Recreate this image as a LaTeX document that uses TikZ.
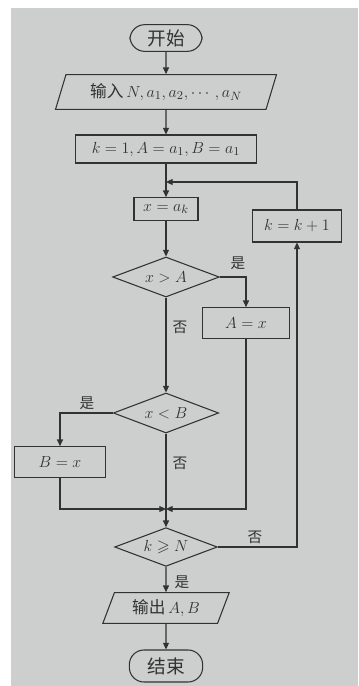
\documentclass[tikz,border=0pt]{standalone}
\usepackage{amsmath,amssymb}
\usepackage{fontspec}
\newfontfamily\cjk{Noto Sans CJK SC}
\usetikzlibrary{shapes.geometric,arrows.meta}
\definecolor{paper}{RGB}{204,207,205}
\definecolor{ink}{RGB}{50,50,50}
\begin{document}
\begin{tikzpicture}[x=0.75pt,y=-0.75pt,
  every node/.style={font=\fontsize{12.5}{15}\selectfont,text=ink},
  flow/.style={draw=ink,line width=0.8pt,inner sep=2pt},
  term/.style={flow,rounded corners=11pt,font=\fontsize{14}{16}\selectfont\cjk},
  proc/.style={flow,rectangle},
  io/.style={flow,trapezium,trapezium left angle=70,trapezium right angle=110,trapezium stretches=true},
  test/.style={flow,diamond,aspect=2.6,inner sep=0pt},
  lbl/.style={font=\fontsize{11}{13}\selectfont\cjk},
  line/.style={draw=ink,line width=0.8pt},
  arr/.style={line,-{Triangle[length=5pt,width=4.5pt]}}]
\fill[white] (0,0) rectangle (358,686);
\fill[paper] (11,8) rectangle (358,686);
\useasboundingbox (0,0) rectangle (358,686);
\node[term,minimum width=54pt,minimum height=20pt] (start) at (166,38) {开始};
\node[io,minimum width=166pt,minimum height=26pt] (input) at (166,92) {{\cjk 输入}\,$N,a_1,a_2,\cdots,a_N$};
\node[proc,minimum width=136pt,minimum height=21pt] (init) at (166,149) {$k=1,A=a_1,B=a_1$};
\node[proc,minimum width=48pt,minimum height=17pt] (xak) at (166,209) {$x=a_k$};
\node[proc,minimum width=67pt,minimum height=24pt] (kinc) at (297,226) {$k=k+1$};
\node[test,minimum width=80pt,minimum height=30pt] (cmpA) at (166,277) {$x>A$};
\node[proc,minimum width=65pt,minimum height=23pt] (setA) at (246,323) {$A=x$};
\node[test,minimum width=79pt,minimum height=30pt] (cmpB) at (166,413) {$x<B$};
\node[proc,minimum width=68pt,minimum height=23pt] (setB) at (60,462) {$B=x$};
\node[test,minimum width=77pt,minimum height=29pt] (stoptest) at (166,547) {$k\geqslant N$};
\node[io,minimum width=95pt,minimum height=23pt] (output) at (166,608) {{\cjk 输出}\,$A,B$};
\node[term,minimum width=55pt,minimum height=24pt] (stop) at (166,666) {结束};
\coordinate (loop) at (166,182);
\coordinate (merge) at (166,509);
\node[lbl] (yesA) at (238,263) {是};
\node[lbl] (noA) at (180,327) {否};
\node[lbl] (yesB) at (87,403) {是};
\node[lbl] (noB) at (180,463) {否};
\node[lbl] (noT) at (255,537) {否};
\node[lbl] (yesT) at (182,582) {是};
\draw[arr] (start) -- (input);
\draw[arr] (input) -- (init);
\draw[arr] (init) -- (xak);
\draw[arr] (xak) -- (cmpA);
\draw[arr] (cmpA.east) -| (setA.north);
\draw[arr] (cmpA) -- (cmpB);
\draw[arr] (cmpB.west) -| (setB.north);
\draw[line] (cmpB.south) -- (merge);
\draw[arr] (setB.south) |- (merge);
\draw[arr] (setA.south) |- (merge);
\draw[arr] (merge) -- (stoptest);
\draw[arr] (stoptest.east) -| (kinc.south);
\draw[arr] (kinc.north) |- (loop);
\draw[arr] (stoptest) -- (output);
\draw[arr] (output) -- (stop);
\end{tikzpicture}
\end{document}
